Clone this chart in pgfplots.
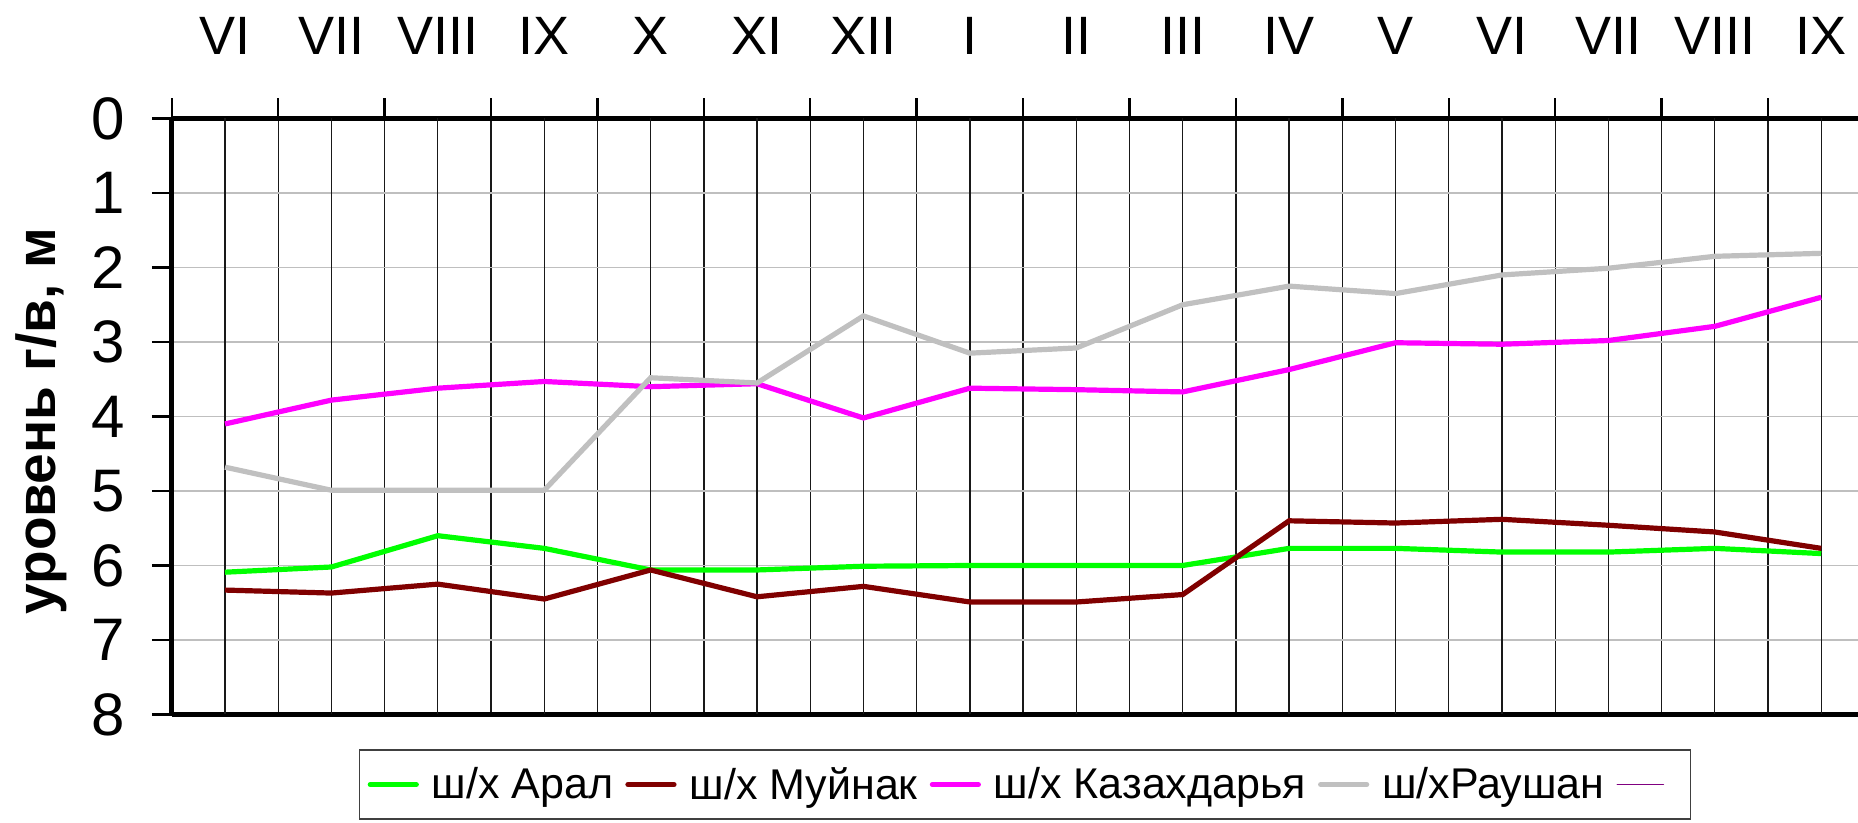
\documentclass[border=0pt]{standalone}
\usepackage{fontspec}
\setmainfont{Liberation Sans}
\usepackage{pgfplots}
\pgfplotsset{compat=1.18}
\definecolor{cGreen}{RGB}{0,255,0}
\definecolor{cMaroon}{RGB}{128,0,0}
\definecolor{cMagenta}{RGB}{255,0,255}
\definecolor{cGray}{RGB}{192,192,192}
\definecolor{cPurple}{RGB}{128,0,128}
\begin{document}
\begin{tikzpicture}
\begin{axis}[
  scale only axis,
  width=851.3pt, height=298pt,
  xmin=-0.5, xmax=15.5,
  ymin=0, ymax=8, y dir=reverse,
  axis x line*=box, axis y line*=left,
  axis line style={line width=2.3pt},
  xtick={-0.5,0.5,...,15.5},
  xticklabels={},
  xtick pos=right,
  extra x ticks={0,...,15},
  extra x tick labels={VI,VII,VIII,IX,X,XI,XII,I,II,III,IV,V,VI,VII,VIII,IX},
  extra x tick style={major tick length=0pt, xticklabel pos=right,
    xticklabel style={font=\fontsize{27}{30}\selectfont, anchor=south, yshift=28.5pt}},
  ytick={0,...,8},
  tick align=outside,
  major tick length=10pt,
  tick style={black, line width=1.2pt},
  xmajorgrids, ymajorgrids,
  x grid style={black!90, line width=0.65pt},
  y grid style={black!25, line width=0.8pt},
  yticklabel style={font=\fontsize{30}{32}\selectfont, xshift=-10pt},
  /pgf/number format/assume math mode=true,
  ylabel={\bfseries уровень г/в, м},
  ylabel style={font=\fontsize{27.5}{30}\selectfont, at={(axis description cs:-0.0768,0.492)}, anchor=center},
  legend columns=5,
  legend style={at={(axis description cs:0.11,0)}, anchor=north west, yshift=-17.5pt,
    font=\fontsize{21.5}{26}\selectfont, draw=black!75, line width=0.6pt,
    inner xsep=4pt, inner ysep=6pt,
    nodes={inner xsep=2.5pt, inner ysep=2.5pt},
    /tikz/every even column/.append style={column sep=3.5pt}},
  legend image code/.code={\draw[line cap=round,#1] (0pt,0pt) -- (23pt,0pt); \path (27pt,0pt);},
]
\addplot[cGreen, line width=2.6pt] coordinates {(0,6.09)(1,6.02)(2,5.60)(3,5.77)(4,6.06)(5,6.06)(6,6.01)(7,6.0)(8,6.0)(9,6.0)(10,5.77)(11,5.77)(12,5.82)(13,5.82)(14,5.77)(15,5.84)};
\addlegendentry{ш/х Арал}
\addplot[cMaroon, line width=2.6pt] coordinates {(0,6.33)(1,6.37)(2,6.25)(3,6.45)(4,6.06)(5,6.42)(6,6.28)(7,6.49)(8,6.49)(9,6.39)(10,5.40)(11,5.43)(12,5.38)(13,5.46)(14,5.55)(15,5.77)};
\addlegendentry{ш/х Муйнак}
\addplot[cMagenta, line width=2.6pt] coordinates {(0,4.10)(1,3.78)(2,3.62)(3,3.53)(4,3.60)(5,3.56)(6,4.02)(7,3.62)(8,3.64)(9,3.67)(10,3.37)(11,3.01)(12,3.03)(13,2.98)(14,2.79)(15,2.40)};
\addlegendentry{ш/х Казахдарья}
\addplot[cGray, line width=2.6pt] coordinates {(0,4.68)(1,4.99)(2,4.99)(3,4.99)(4,3.48)(5,3.55)(6,2.65)(7,3.15)(8,3.08)(9,2.50)(10,2.25)(11,2.35)(12,2.10)(13,2.01)(14,1.85)(15,1.81)};
\addlegendentry{ш/хРаушан}
\addlegendimage{cPurple, line width=0.8pt}
\addlegendentry{}
\coordinate (tl) at (axis cs:-0.5,0);
\end{axis}
\path (tl) ++(-85.9pt,59.25pt) coordinate (A) ++(929pt,-411.5pt) coordinate (B);
\pgfresetboundingbox
\path (A) rectangle (B);
\end{tikzpicture}
\end{document}
